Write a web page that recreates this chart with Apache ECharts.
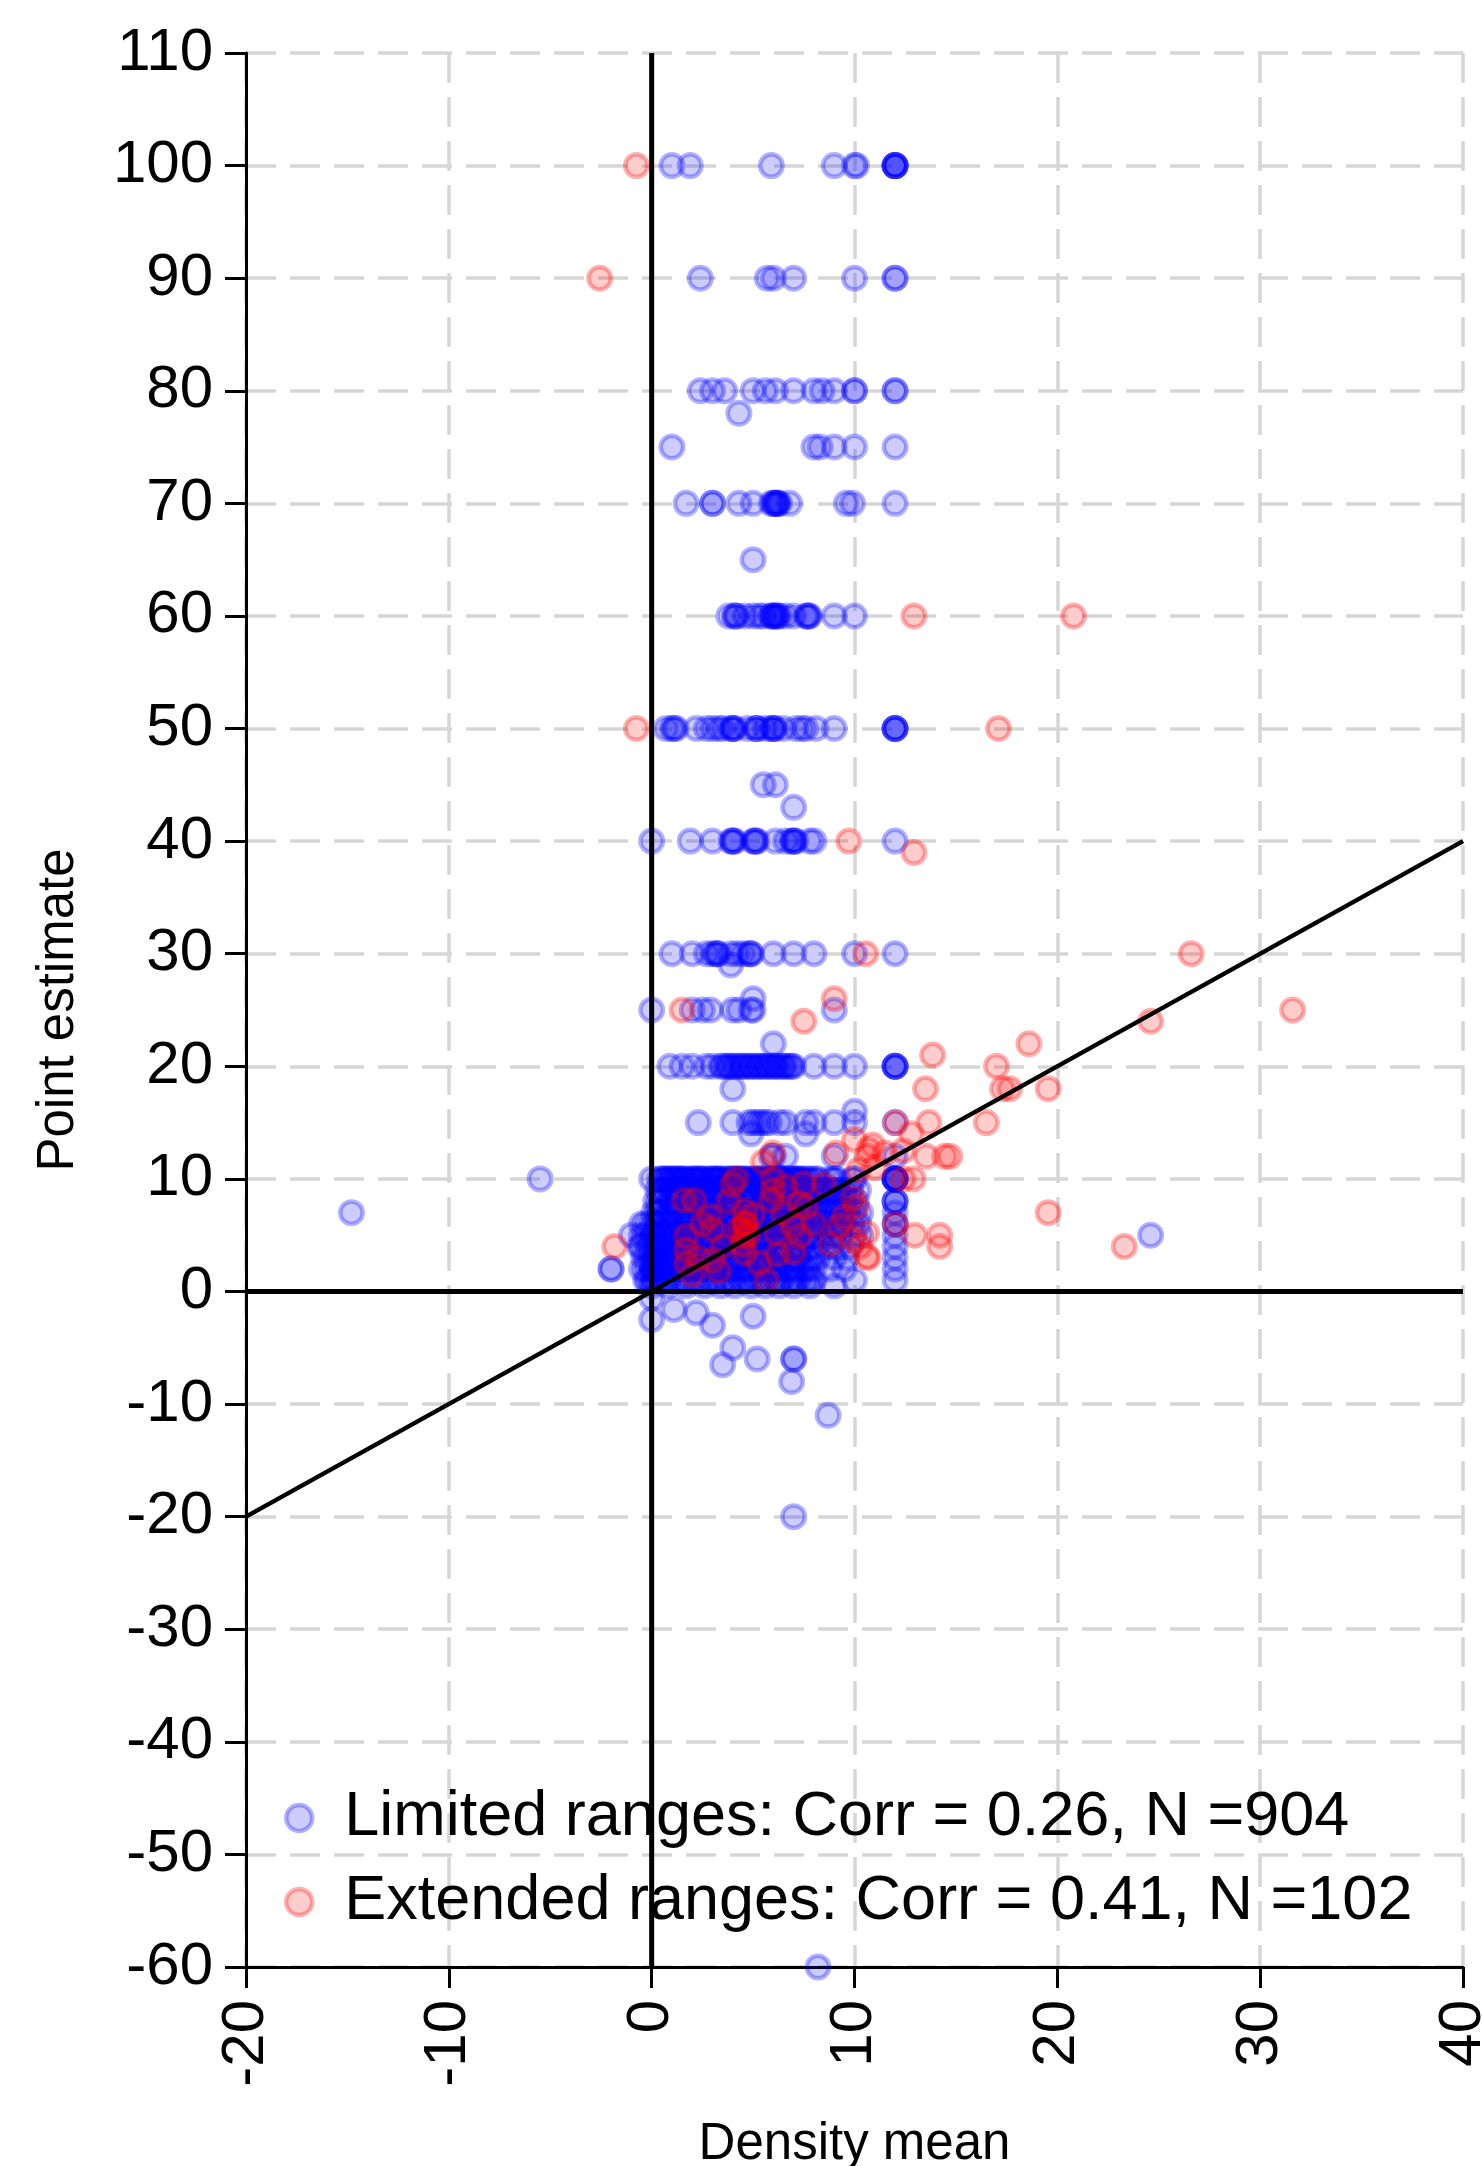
<!DOCTYPE html>
<html>
<head>
<meta charset="utf-8">
<script src="https://cdn.jsdelivr.net/npm/echarts@6/dist/echarts.min.js"></script>
<style>
html, body { margin: 0; padding: 0; background: #ffffff; overflow: hidden; }
#chart { width: 1482px; height: 2166px; }
</style>
</head>
<body>
<div id="chart"></div>
<script>
// ---------- DATA ----------
const xAxisMin = -20, xAxisMax = 40, xAxisStep = 10;
const yAxisMin = -60, yAxisMax = 110, yAxisStep = 10;

const limitedName = 'Limited ranges: Corr = 0.26, N =904';
const extendedName = 'Extended ranges: Corr = 0.41, N =102';

// Limited ranges: rows of points sharing one point-estimate value (y) with their density means (x)
const limitedRows = [
  { y: 100, x: [1.0, 1.9, 5.9, 9.0, 10.0, 10.1, 12.0, 12.0, 12.0, 12.0, 12.0] },
  { y: 90,  x: [2.4, 5.7, 6.0, 7.0, 10.0, 12.0, 12.0] },
  { y: 80,  x: [2.4, 3.0, 3.6, 5.0, 5.6, 6.1, 7.0, 8.0, 8.4, 9.0, 10.0, 10.0, 12.0, 12.0] },
  { y: 78,  x: [4.3] },
  { y: 75,  x: [1.0, 8.0, 8.3, 9.0, 10.0, 12.0] },
  { y: 70,  x: [1.7, 3.0, 3.0, 4.3, 5.0, 5.9, 6.0, 6.1, 6.1, 6.2, 6.2, 6.3, 6.8, 9.6, 9.9, 12.0] },
  { y: 65,  x: [5.0] },
  { y: 60,  x: [3.8, 4.1, 4.1, 4.2, 4.6, 5.0, 5.3, 5.5, 5.9, 5.9, 6.0, 6.1, 6.1, 6.2, 6.3, 6.6, 7.0, 7.6, 7.7, 7.7, 7.8, 9.0, 10.0] },
  { y: 50,  x: [0.7, 1.0, 1.1, 1.2, 2.2, 2.7, 3.0, 3.3, 3.5, 3.9, 4.0, 4.0, 4.1, 4.7, 5.1, 5.2, 5.2, 5.6, 5.9, 6.0, 6.0, 6.1, 6.5, 7.1, 7.4, 7.6, 8.1, 9.0, 12.0, 12.0, 12.0, 12.0] },
  { y: 45,  x: [5.5, 6.1] },
  { y: 43,  x: [7.0] },
  { y: 40,  x: [0.0, 1.9, 3.0, 3.9, 4.0, 4.0, 4.1, 5.0, 5.1, 5.1, 5.2, 6.1, 6.6, 6.9, 7.0, 7.0, 7.1, 7.8, 8.0, 12.0] },
  { y: 30,  x: [1.0, 2.0, 2.7, 3.0, 3.2, 3.2, 3.3, 3.9, 4.2, 4.5, 4.8, 4.9, 4.9, 6.0, 7.0, 8.0, 10.0, 12.0] },
  { y: 29,  x: [3.9] },
  { y: 26,  x: [5.0] },
  { y: 25,  x: [0.0, 2.0, 2.5, 2.9, 4.0, 4.3, 4.9, 5.0, 9.0] },
  { y: 22,  x: [6.0] },
  { y: 20,  x: [0.9, 1.5, 2.0, 2.7, 3.0, 3.4, 3.5, 3.7, 3.8, 3.9, 4.1, 4.2, 4.4, 4.5, 4.6, 4.8, 4.9, 5.0, 5.2, 5.3, 5.4, 5.6, 5.7, 5.8, 6.0, 6.1, 6.2, 6.4, 6.5, 6.6, 6.8, 6.9, 7.0, 8.0, 9.0, 10.0, 12.0, 12.0, 12.0, 12.0] },
  { y: 18,  x: [4.0] },
  { y: 16,  x: [10.0] },
  { y: 15,  x: [2.3, 4.0, 4.8, 5.0, 5.2, 5.4, 5.6, 5.8, 6.3, 6.6, 7.6, 8.0, 9.0, 10.0, 12.0] },
  { y: 14,  x: [4.9, 7.6] },
  { y: 12,  x: [5.9, 6.0, 6.6, 9.0, 12.0] },
  { y: 10,  x: [-5.5, 0.0, 0.4, 0.5, 0.6, 0.7, 0.8, 0.9, 1.0, 1.1, 1.2, 1.3, 1.4, 1.5, 1.6, 1.7, 1.9, 2.0, 2.1, 2.2, 2.3, 2.4, 2.5, 2.6, 2.8, 2.9, 3.0, 3.1, 3.2, 3.3, 3.4, 3.5, 3.7, 3.8, 3.9, 4.0, 4.1, 4.2, 4.3, 4.4, 4.5, 4.6, 4.7, 4.9, 5.0, 5.1, 5.2, 5.3, 5.4, 5.5, 5.6, 5.7, 5.9, 6.0, 6.1, 6.2, 6.3, 6.4, 6.5, 6.6, 6.8, 6.9, 7.0, 7.1, 7.2, 7.3, 7.4, 7.6, 7.7, 7.9, 8.1, 8.2, 8.8, 9.0, 9.1, 9.9, 10.0, 12.0, 12.0, 12.0, 12.0, 12.0, 12.0] },
  { y: 9,   x: [0.3, 0.5, 0.6, 1.0, 1.2, 1.4, 1.8, 2.0, 2.2, 2.5, 2.7, 2.9, 3.2, 3.4, 3.6, 4.0, 4.1, 4.3, 4.7, 4.9, 5.0, 5.4, 5.6, 5.8, 6.1, 6.3, 6.5, 6.9, 7.0, 7.3, 7.7, 7.9, 8.1, 8.4, 8.6, 8.9, 9.0, 9.2, 9.5, 9.8, 10.2] },
  { y: 8,   x: [0.2, 0.4, 0.5, 0.9, 1.0, 1.2, 1.6, 1.8, 2.0, 2.3, 2.5, 2.7, 3.0, 3.2, 3.4, 3.8, 4.0, 4.1, 4.5, 4.7, 4.8, 5.2, 5.4, 5.5, 5.9, 6.1, 6.3, 6.6, 6.8, 7.0, 7.4, 7.6, 7.8, 8.1, 8.3, 8.6, 8.9, 9.2, 9.5, 9.8, 10.1, 12.0, 12.0, 12.0] },
  { y: 7,   x: [-14.8, 0.1, 0.3, 0.4, 0.8, 1.0, 1.1, 1.5, 1.7, 1.9, 2.2, 2.4, 2.6, 2.9, 3.1, 3.3, 3.7, 3.9, 4.0, 4.4, 4.6, 4.8, 5.1, 5.3, 5.5, 5.8, 6.0, 6.2, 6.6, 6.8, 6.9, 7.3, 7.5, 7.7, 8.0, 8.3, 8.6, 8.8, 9.1, 9.4, 9.7, 10.0, 10.3, 12.0] },
  { y: 6,   x: [-0.5, -0.3, 0.0, 0.2, 0.3, 0.6, 0.8, 1.0, 1.3, 1.5, 1.7, 2.0, 2.2, 2.4, 2.7, 2.9, 3.1, 3.5, 3.6, 3.8, 4.2, 4.3, 4.5, 4.9, 5.0, 5.3, 5.6, 5.8, 6.0, 6.4, 6.5, 6.7, 7.1, 7.3, 7.5, 7.9, 8.1, 8.4, 8.7, 8.9, 9.1, 9.4, 9.9, 10.2, 12.0, 12.0] },
  { y: 5,   x: [-1.0, -0.5, -0.3, 0.0, 0.1, 0.2, 0.5, 0.6, 0.8, 1.1, 1.2, 1.4, 1.8, 1.9, 2.1, 2.5, 2.6, 2.8, 3.2, 3.3, 3.5, 3.9, 4.0, 4.2, 4.6, 4.8, 4.9, 5.3, 5.5, 5.7, 6.0, 6.2, 6.4, 6.8, 7.0, 7.2, 7.6, 7.8, 8.1, 8.4, 8.7, 9.0, 9.3, 10.0, 10.3, 12.0, 24.6] },
  { y: 4,   x: [-0.6, -0.5, -0.2, 0.0, 0.2, 0.3, 0.4, 0.7, 0.9, 1.0, 1.3, 1.5, 1.6, 2.0, 2.1, 2.3, 2.6, 2.8, 3.0, 3.3, 3.5, 3.7, 4.0, 4.2, 4.4, 4.7, 4.9, 5.1, 5.5, 5.6, 5.8, 6.2, 6.4, 6.6, 7.0, 7.2, 7.4, 7.8, 8.0, 8.5, 8.9, 9.2, 9.8, 12.0] },
  { y: 3,   x: [-0.4, -0.2, 0.0, 0.1, 0.2, 0.3, 0.6, 0.7, 0.9, 1.2, 1.3, 1.5, 1.9, 2.0, 2.2, 2.5, 2.7, 2.9, 3.2, 3.4, 3.6, 3.9, 4.1, 4.3, 4.6, 4.8, 5.0, 5.4, 5.5, 5.7, 6.1, 6.3, 6.5, 6.9, 7.1, 7.3, 7.7, 7.9, 8.2, 9.0, 9.6, 12.0] },
  { y: 2,   x: [-2.0, -2.0, -0.5, -0.3, 0.0, 0.0, 0.1, 0.2, 0.4, 0.5, 0.7, 1.0, 1.2, 1.4, 1.7, 1.9, 2.0, 2.4, 2.6, 2.7, 3.1, 3.3, 3.4, 3.8, 4.0, 4.1, 4.5, 4.7, 4.8, 5.2, 5.4, 5.6, 5.9, 6.1, 6.3, 6.7, 6.9, 7.1, 7.5, 7.7, 8.0, 8.8, 9.5, 12.0] },
  { y: 1,   x: [-0.3, -0.2, 0.0, 0.1, 0.2, 0.4, 0.6, 0.8, 1.2, 1.4, 1.6, 2.0, 2.2, 2.4, 2.8, 3.0, 3.2, 3.6, 3.8, 4.0, 4.4, 4.6, 4.8, 5.2, 5.4, 5.6, 6.0, 6.2, 6.4, 6.8, 7.0, 7.2, 7.6, 7.8, 8.0, 10.0, 12.0] },
  { y: 0.5, x: [0.0, 0.8, 1.7, 2.6, 3.4, 4.1, 4.9, 5.6, 6.3, 7.0, 7.8, 9.0] },
  { y: -0.6, x: [0.0] },
  { y: -1.6, x: [1.1] },
  { y: -1.9, x: [2.2] },
  { y: -2.2, x: [5.0] },
  { y: -2.5, x: [0.0] },
  { y: -3,  x: [3.0] },
  { y: -5,  x: [4.0] },
  { y: -6,  x: [5.2, 7.0, 7.0] },
  { y: -6.5, x: [3.5] },
  { y: -8,  x: [6.9] },
  { y: -11, x: [8.7] },
  { y: -20, x: [7.0] },
  { y: -60, x: [8.2] }
];

// Extended ranges: [density mean, point estimate]
const extendedPoints = [
  [-0.75, 100], [-2.56, 90], [12.93, 60], [20.8, 60], [-0.75, 50], [17.1, 50],
  [9.72, 40], [12.93, 39], [10.55, 30], [26.6, 30], [1.5, 25], [9.0, 26],
  [7.5, 24], [31.6, 25], [24.6, 24], [18.6, 22], [13.85, 21], [17.0, 20],
  [13.5, 18], [17.3, 18], [17.65, 18], [19.55, 18], [13.67, 15], [16.5, 15],
  [12.03, 15], [12.8, 14], [10.9, 13], [12.4, 12.5], [13.54, 12], [14.45, 12],
  [14.7, 12], [10.65, 12], [12.89, 10], [12.4, 10], [19.55, 7], [12.03, 6],
  [12.97, 5], [14.2, 5], [14.2, 4], [23.3, 4], [10.67, 3], [10.6, 5.2],
  [-1.82, 4], [1.6, 8.1], [2.1, 8.1], [5.98, 12.3], [9.1, 12.3], [10.7, 12.6],
  [4.17, 10], [5.98, 10], [7.5, 9.6], [5.9, 8.1], [5.98, 9.0], [7.3, 7.8],
  [7.6, 7.5], [9.93, 8.3], [10.09, 7.5], [4.59, 7.2], [4.59, 6.1], [4.6, 6.0],
  [4.59, 4.9], [4.59, 3.4], [1.71, 4.9], [1.71, 3.7], [1.71, 2.5], [2.86, 6.65],
  [3.0, 5.5], [3.0, 2.8], [6.15, 5.2], [6.97, 5.8], [7.3, 4.9], [5.66, 1.0],
  [9.27, 5.8], [9.93, 4.6], [10.26, 4.0], [10.6, 3.1], [4.3, 5.5], [4.8, 5.0],
  [4.5, 4.2], [5.0, 6.8], [3.5, 4.0], [2.3, 3.0], [2.5, 6.0], [6.5, 7.0],
  [7.0, 3.5], [8.0, 6.0], [8.5, 9.5], [3.8, 8.0], [5.3, 2.5], [6.2, 3.3],
  [4.0, 9.5], [5.5, 11.5], [10.2, 10.8], [11.5, 12.3], [10.0, 13.5], [11.0, 11.0],
  [3.3, 1.8], [2.0, 1.5], [8.8, 4.2], [9.5, 6.6], [6.6, 9.3], [4.6, 5.4]
];

// Reference lines (in data units)
const diagonalLine = [[-20, -20], [40, 40]];
const zeroYLine = [[-20, 0], [40, 0]];
const zeroXLine = [[0, -60], [0, 110]];

// ---------- BUILD ----------
const limitedPoints = [];
limitedRows.forEach(r => r.x.forEach(v => limitedPoints.push([v, r.y])));

const FONT = "'Liberation Sans', Arial, Helvetica, sans-serif";
const blueStyle = { color: 'rgba(0,0,255,0.25)', borderColor: 'rgba(0,0,255,0.38)', borderWidth: 4.5 };
const redStyle = { color: 'rgba(255,0,0,0.25)', borderColor: 'rgba(255,0,0,0.38)', borderWidth: 4.5 };
const gridLine = { show: true, lineStyle: { color: '#d6d6d6', width: 3.5, type: [30, 14] } };

const chart = echarts.init(document.getElementById('chart'), null, { renderer: 'canvas', width: 1482, height: 2166 });
const refLine = (data, w) => ({
  type: 'line', data: data, symbol: 'none', silent: true, z: 5,
  lineStyle: { color: '#000', width: w }, emphasis: { disabled: true }
});

chart.setOption({
  animation: false,
  backgroundColor: '#ffffff',
  textStyle: { fontFamily: FONT },
  grid: { left: 246, right: 19, top: 53, bottom: 199, containLabel: false, outerBoundsMode: 'none' },
  xAxis: {
    type: 'value', min: xAxisMin, max: xAxisMax, interval: xAxisStep,
    name: 'Density mean', nameLocation: 'middle', nameGap: 152,
    nameTextStyle: { fontSize: 51, color: '#000', fontFamily: FONT },
    axisLine: { show: true, onZero: false, lineStyle: { color: '#000', width: 3 } },
    axisTick: { show: true, length: 21, lineStyle: { color: '#000', width: 3 } },
    axisLabel: { rotate: 90, fontSize: 60, margin: 33, color: '#000', fontFamily: FONT, showMinLabel: true, showMaxLabel: true, hideOverlap: false },
    splitLine: gridLine
  },
  yAxis: {
    type: 'value', min: yAxisMin, max: yAxisMax, interval: yAxisStep,
    name: 'Point estimate', nameLocation: 'middle', nameRotate: 90, nameGap: 162,
    nameTextStyle: { fontSize: 51, color: '#000', fontFamily: FONT },
    axisLine: { show: true, onZero: false, lineStyle: { color: '#000', width: 3 } },
    axisTick: { show: true, length: 21, lineStyle: { color: '#000', width: 3 } },
    axisLabel: { fontSize: 60, margin: 33, color: '#000', fontFamily: FONT, showMinLabel: true, showMaxLabel: true, hideOverlap: false },
    splitLine: gridLine
  },
  legend: {
    orient: 'vertical', left: 279, top: 1778, itemWidth: 80, itemHeight: 26, itemGap: 14,
    icon: 'circle', selectedMode: false,
    textStyle: { fontSize: 63, color: '#000', fontFamily: FONT, lineHeight: 70 },
    data: [
      { name: limitedName, itemStyle: blueStyle },
      { name: extendedName, itemStyle: redStyle }
    ]
  },
  series: [
    {
      name: limitedName, type: 'scatter', data: limitedPoints, symbol: 'circle', symbolSize: 22.5,
      itemStyle: blueStyle, z: 2, silent: true, emphasis: { disabled: true }, large: false
    },
    {
      name: extendedName, type: 'scatter', data: extendedPoints, symbol: 'circle', symbolSize: 22.5,
      itemStyle: redStyle, z: 3, silent: true, emphasis: { disabled: true }, large: false
    },
    refLine(zeroYLine, 5),
    refLine(zeroXLine, 5),
    refLine(diagonalLine, 4.5)
  ]
});
</script>
</body>
</html>
